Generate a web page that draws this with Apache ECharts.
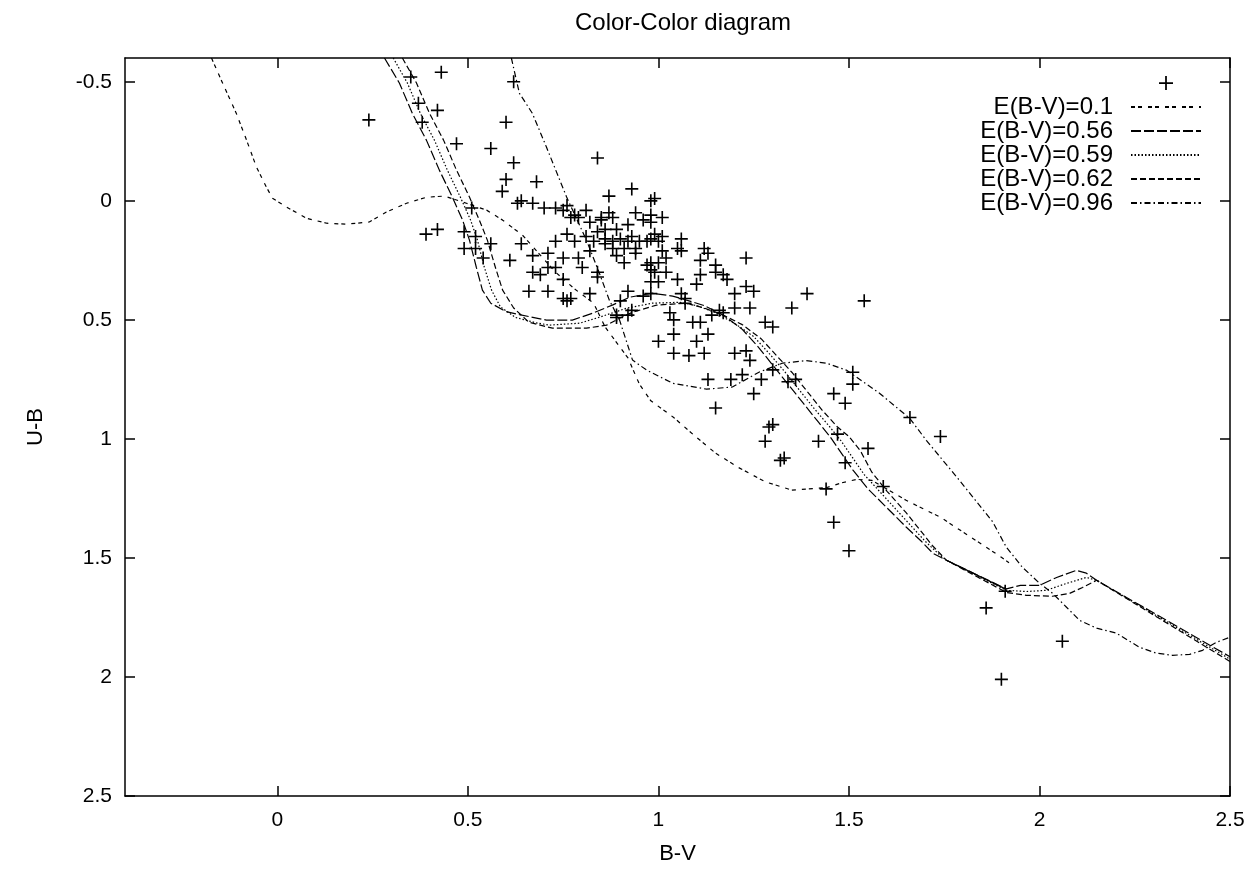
<!DOCTYPE html>
<html>
<head>
<meta charset="utf-8">
<title>Color-Color diagram</title>
<script src="https://cdn.jsdelivr.net/npm/echarts@6/dist/echarts.min.js"></script>
<style>
  html, body { margin: 0; padding: 0; background: #fff; }
  #chart { width: 1259px; height: 869px; }
</style>
</head>
<body>
<div id="chart"></div>
<script>
// 刻度
const xTicks = [0, 0.5, 1, 1.5, 2, 2.5];
const yTicks = [-0.5, 0, 0.5, 1, 1.5, 2, 2.5];

// 观测星 B-V / U-B
const bv = [0.35, 0.37, 0.38, 0.43, 0.42, 0.24, 0.47, 0.56, 0.62, 0.60, 0.62, 0.60, 0.59, 0.63, 0.51, 0.39, 0.42, 0.49, 0.52, 0.49,
  0.52, 0.56, 0.54, 0.61, 0.64, 0.68, 0.84, 0.93, 0.87, 0.98, 0.99, 0.64, 0.67, 0.70, 0.73, 0.76, 0.75, 0.77, 0.78, 0.79,
  0.81, 0.82, 0.85, 0.85, 0.87, 0.88, 0.94, 0.96, 0.98, 1.01, 0.98, 0.92, 0.89, 0.86, 0.84, 0.76, 0.73, 0.78, 0.81, 0.83,
  0.86, 0.88, 0.90, 0.92, 0.93, 0.95, 0.97, 0.98, 1.00, 0.99, 1.01, 0.88, 0.91, 0.94, 0.94, 0.86, 1.06, 1.05, 1.06, 1.01,
  1.02, 1.00, 0.98, 0.97, 0.89, 0.91, 0.82, 0.79, 0.80, 0.75, 0.71, 0.67, 0.67, 0.69, 0.71, 0.73, 0.75, 0.84, 0.84, 0.66,
  0.71, 0.75, 0.77, 0.82, 0.98, 0.99, 1.02, 1.05, 1.11, 1.11, 1.12, 1.13, 1.15, 1.15, 1.17, 1.18, 1.10, 0.98, 1.00, 1.06,
  1.07, 1.23, 1.20, 1.23, 1.25, 1.20, 1.24, 1.35, 1.17, 1.14, 1.28, 1.30, 1.03, 1.04, 1.04, 1.00, 1.09, 1.11, 1.13, 1.10,
  0.92, 0.96, 0.98, 0.89, 0.93, 0.90, 0.76, 0.89, 0.92, 1.04, 1.08, 1.12, 1.16, 1.07, 1.20, 1.23, 1.24, 1.13, 1.19, 1.22,
  1.27, 1.34, 1.36, 1.30, 1.25, 1.15, 1.29, 1.30, 1.28, 1.33, 1.32, 1.42, 1.47, 1.51, 1.51, 1.46, 1.49, 1.49, 1.44, 1.46,
  1.50, 1.39, 1.54, 1.66, 1.74, 1.55, 1.59, 1.91, 1.86, 2.06, 1.90];
const ub = [-0.52, -0.41, -0.33, -0.54, -0.38, -0.34, -0.24, -0.22, -0.50, -0.33, -0.16, -0.09, -0.04, 0.01, 0.03, 0.14, 0.12, 0.13, 0.15, 0.20,
  0.20, 0.18, 0.24, 0.25, 0.18, -0.08, -0.18, -0.05, -0.02, 0.00, -0.01, 0.00, 0.01, 0.03, 0.03, 0.02, 0.04, 0.07, 0.06, 0.07,
  0.04, 0.09, 0.07, 0.08, 0.05, 0.07, 0.05, 0.08, 0.06, 0.07, 0.09, 0.10, 0.12, 0.12, 0.13, 0.14, 0.17, 0.17, 0.15, 0.17,
  0.16, 0.17, 0.16, 0.17, 0.15, 0.17, 0.17, 0.16, 0.17, 0.14, 0.15, 0.20, 0.20, 0.20, 0.22, 0.18, 0.16, 0.20, 0.21, 0.21,
  0.24, 0.26, 0.26, 0.27, 0.23, 0.26, 0.21, 0.24, 0.28, 0.24, 0.22, 0.23, 0.30, 0.31, 0.28, 0.28, 0.33, 0.30, 0.32, 0.38,
  0.38, 0.41, 0.41, 0.39, 0.29, 0.30, 0.30, 0.33, 0.31, 0.25, 0.20, 0.22, 0.27, 0.30, 0.31, 0.33, 0.35, 0.34, 0.34, 0.39,
  0.41, 0.24, 0.39, 0.36, 0.38, 0.45, 0.45, 0.45, 0.47, 0.48, 0.51, 0.53, 0.47, 0.50, 0.56, 0.59, 0.51, 0.51, 0.56, 0.59,
  0.38, 0.40, 0.39, 0.48, 0.46, 0.42, 0.42, 0.49, 0.48, 0.64, 0.65, 0.64, 0.46, 0.43, 0.64, 0.63, 0.67, 0.75, 0.75, 0.73,
  0.75, 0.76, 0.75, 0.71, 0.81, 0.87, 0.95, 0.94, 1.01, 1.08, 1.09, 1.01, 0.98, 0.72, 0.77, 0.81, 0.85, 1.10, 1.21, 1.35,
  1.47, 0.39, 0.42, 0.91, 0.99, 1.04, 1.20, 1.64, 1.71, 1.85, 2.01];

// 红化后的主序线
const curve010 = [[-0.173, -0.6], [-0.144, -0.495], [-0.108, -0.368], [-0.081, -0.255], [-0.055, -0.142], [-0.029, -0.058],
  [-0.013, -0.011], [0.024, 0.026], [0.076, 0.073], [0.129, 0.094], [0.181, 0.098], [0.241, 0.089], [0.286, 0.047],
  [0.339, 0.010], [0.391, -0.015], [0.438, -0.020], [0.496, 0.010], [0.549, 0.039], [0.591, 0.081], [0.643, 0.144],
  [0.68, 0.21], [0.73, 0.30], [0.78, 0.37], [0.83, 0.43], [0.86, 0.53], [0.92, 0.66], [0.95, 0.77], [0.98, 0.84],
  [1.04, 0.91], [1.09, 0.98], [1.15, 1.06], [1.21, 1.12], [1.28, 1.18], [1.35, 1.215], [1.44, 1.205], [1.48, 1.185],
  [1.52, 1.17], [1.56, 1.174], [1.65, 1.258], [1.74, 1.329], [1.82, 1.413], [1.90, 1.497], [1.92, 1.52]];
const curve056 = [[0.281, -0.6], [0.320, -0.495], [0.354, -0.368], [0.391, -0.255], [0.425, -0.129], [0.459, -0.016],
  [0.486, 0.081], [0.504, 0.165], [0.522, 0.279], [0.538, 0.375], [0.56, 0.43], [0.60, 0.465], [0.635, 0.478],
  [0.706, 0.501], [0.774, 0.501], [0.827, 0.472], [0.879, 0.438], [0.924, 0.405], [0.984, 0.388], [1.037, 0.40],
  [1.08, 0.42], [1.12, 0.44], [1.17, 0.48], [1.22, 0.54], [1.26, 0.61], [1.30, 0.69], [1.34, 0.77], [1.38, 0.85],
  [1.42, 0.93], [1.45, 0.99], [1.48, 1.06], [1.51, 1.13], [1.55, 1.21], [1.60, 1.29], [1.65, 1.37], [1.69, 1.43],
  [1.72, 1.48], [1.756, 1.51], [1.913, 1.63], [1.95, 1.615], [2.0, 1.615], [2.045, 1.582], [2.097, 1.552],
  [2.123, 1.564], [2.15, 1.594], [2.5, 1.915]];
const curve059 = [[0.304, -0.6], [0.341, -0.495], [0.375, -0.368], [0.412, -0.255], [0.446, -0.129], [0.480, -0.016],
  [0.507, 0.081], [0.525, 0.165], [0.543, 0.279], [0.562, 0.375], [0.585, 0.445], [0.625, 0.49], [0.68, 0.513],
  [0.714, 0.522], [0.793, 0.514], [0.845, 0.489], [0.916, 0.451], [0.984, 0.43], [1.055, 0.426], [1.10, 0.44],
  [1.15, 0.47], [1.20, 0.515], [1.25, 0.57], [1.29, 0.64], [1.33, 0.715], [1.37, 0.795], [1.41, 0.875], [1.45, 0.95],
  [1.48, 1.01], [1.51, 1.08], [1.54, 1.15], [1.58, 1.22], [1.62, 1.29], [1.66, 1.36], [1.70, 1.43], [1.74, 1.49],
  [1.756, 1.51], [1.913, 1.636], [1.966, 1.641], [2.018, 1.636], [2.071, 1.607], [2.123, 1.582], [2.15, 1.594],
  [2.5, 1.925]];
const curve062 = [[0.328, -0.6], [0.365, -0.495], [0.399, -0.368], [0.436, -0.255], [0.470, -0.129], [0.504, -0.016],
  [0.530, 0.081], [0.551, 0.165], [0.572, 0.279], [0.591, 0.375], [0.62, 0.45], [0.66, 0.51], [0.722, 0.535],
  [0.811, 0.535], [0.864, 0.522], [0.898, 0.493], [0.932, 0.468], [0.995, 0.438], [1.073, 0.43], [1.12, 0.45],
  [1.17, 0.48], [1.22, 0.52], [1.27, 0.58], [1.31, 0.65], [1.35, 0.72], [1.39, 0.80], [1.43, 0.88], [1.47, 0.95],
  [1.50, 0.99], [1.53, 1.05], [1.56, 1.14], [1.60, 1.22], [1.65, 1.31], [1.69, 1.39], [1.72, 1.45], [1.756, 1.51],
  [1.913, 1.645], [1.966, 1.657], [2.034, 1.661], [2.079, 1.649], [2.113, 1.624], [2.15, 1.594], [2.5, 1.935]];
const curve096 = [[0.614, -0.6], [0.635, -0.452], [0.669, -0.368], [0.706, -0.226], [0.759, -0.016], [0.811, 0.165],
  [0.845, 0.304], [0.871, 0.417], [0.898, 0.501], [0.932, 0.669], [0.969, 0.711], [1.037, 0.766], [1.126, 0.791],
  [1.194, 0.782], [1.265, 0.719], [1.325, 0.682], [1.388, 0.671], [1.441, 0.682], [1.493, 0.711], [1.58, 0.808],
  [1.659, 0.913], [1.703, 1.006], [1.79, 1.174], [1.877, 1.348], [1.913, 1.455], [1.955, 1.539], [2.0, 1.606],
  [2.034, 1.648], [2.071, 1.707], [2.105, 1.762], [2.15, 1.795], [2.202, 1.816], [2.262, 1.875], [2.307, 1.90],
  [2.349, 1.909], [2.394, 1.905], [2.428, 1.888], [2.465, 1.854], [2.5, 1.833]];
// 三条线重合的直线段
const joinLine = [[1.756, 1.51], [1.913, 1.632]];

const lineNames = ['E(B-V)=0.1', 'E(B-V)=0.56', 'E(B-V)=0.59', 'E(B-V)=0.62', 'E(B-V)=0.96'];

const font = 'Liberation Sans, Arial, Helvetica, sans-serif';
const cross = 'path://M0,10.5H24V13.5H0Z M10.5,0H13.5V24H10.5Z';

let points = [];
for (let i = 0; i < bv.length; i++) {
    points.push([bv[i], ub[i]]);
}

function curveSeries(name, data, dash) {
    return {
        name: name,
        type: 'line',
        data: data,
        symbol: 'none',
        smooth: false,
        lineStyle: { color: '#000', width: 1.2, type: dash },
        itemStyle: { color: '#000' },
        z: 3
    };
}

// 图例：线条项不显示圆点
let legendData = [{ name: ' ' }];
for (let i = 0; i < lineNames.length; i++) {
    legendData.push({ name: lineNames[i], itemStyle: { opacity: 0 } });
}

const chart = echarts.init(document.getElementById('chart'));
const option = {
    animation: false,
    backgroundColor: '#fff',
    textStyle: { fontFamily: font, color: '#000' },
    title: {
        text: 'Color-Color diagram',
        left: 678,
        textAlign: 'center',
        top: 6,
        textStyle: { fontFamily: font, fontSize: 24, fontWeight: 'normal', color: '#000' }
    },
    grid: { left: 125, right: 29, top: 58, bottom: 73, outerBoundsMode: 'none', containLabel: false },
    legend: {
        orient: 'vertical',
        right: 52,
        top: 66,
        align: 'right',
        itemWidth: 70,
        itemHeight: 14,
        itemGap: 0,
        data: legendData,
        textStyle: { fontFamily: font, fontSize: 24, color: '#000', padding: [0, 13, 0, 0] }
    },
    xAxis: [{
        type: 'value', min: -0.4, max: 2.5, position: 'bottom',
        name: 'B-V', nameLocation: 'middle', nameGap: 47,
        nameTextStyle: { fontFamily: font, fontSize: 22, color: '#000' },
        axisLine: { onZero: false, lineStyle: { color: '#000', width: 1.5 } },
        axisTick: { inside: true, length: 10, customValues: xTicks, lineStyle: { color: '#000', width: 1.5 } },
        axisLabel: { customValues: xTicks, fontFamily: font, fontSize: 21, color: '#000', margin: 14 },
        splitLine: { show: false }
    }, {
        type: 'value', min: -0.4, max: 2.5, position: 'top',
        axisLine: { onZero: false, lineStyle: { color: '#000', width: 1.5 } },
        axisTick: { inside: true, length: 10, customValues: xTicks, lineStyle: { color: '#000', width: 1.5 } },
        axisLabel: { show: false },
        splitLine: { show: false }
    }],
    yAxis: [{
        type: 'value', min: -0.6, max: 2.5, inverse: true, position: 'left',
        name: 'U-B', nameLocation: 'middle', nameGap: 78,
        nameTextStyle: { fontFamily: font, fontSize: 22, color: '#000' },
        axisLine: { onZero: false, lineStyle: { color: '#000', width: 1.5 } },
        axisTick: { inside: true, length: 10, customValues: yTicks, lineStyle: { color: '#000', width: 1.5 } },
        axisLabel: { customValues: yTicks, fontFamily: font, fontSize: 21, color: '#000', margin: 13 },
        splitLine: { show: false }
    }, {
        type: 'value', min: -0.6, max: 2.5, inverse: true, position: 'right',
        axisLine: { onZero: false, lineStyle: { color: '#000', width: 1.5 } },
        axisTick: { inside: true, length: 10, customValues: yTicks, lineStyle: { color: '#000', width: 1.5 } },
        axisLabel: { show: false },
        splitLine: { show: false }
    }],
    series: [
        {
            name: ' ',
            type: 'scatter',
            data: points,
            symbol: cross,
            symbolSize: 13,
            itemStyle: { color: '#000', opacity: 1 },
            z: 4
        },
        curveSeries(lineNames[0], curve010, [4, 3, 4, 6]),
        curveSeries(lineNames[1], curve056, [10, 3]),
        curveSeries(lineNames[2], curve059, [1.5, 2]),
        curveSeries(lineNames[3], curve062, [6, 3]),
        curveSeries(lineNames[4], curve096, [6, 3, 1.5, 3]),
        {
            name: 'join',
            type: 'line',
            data: joinLine,
            symbol: 'none',
            lineStyle: { color: '#000', width: 1.2, type: 'solid' },
            z: 3
        }
    ]
};
chart.setOption(option);
</script>
</body>
</html>
